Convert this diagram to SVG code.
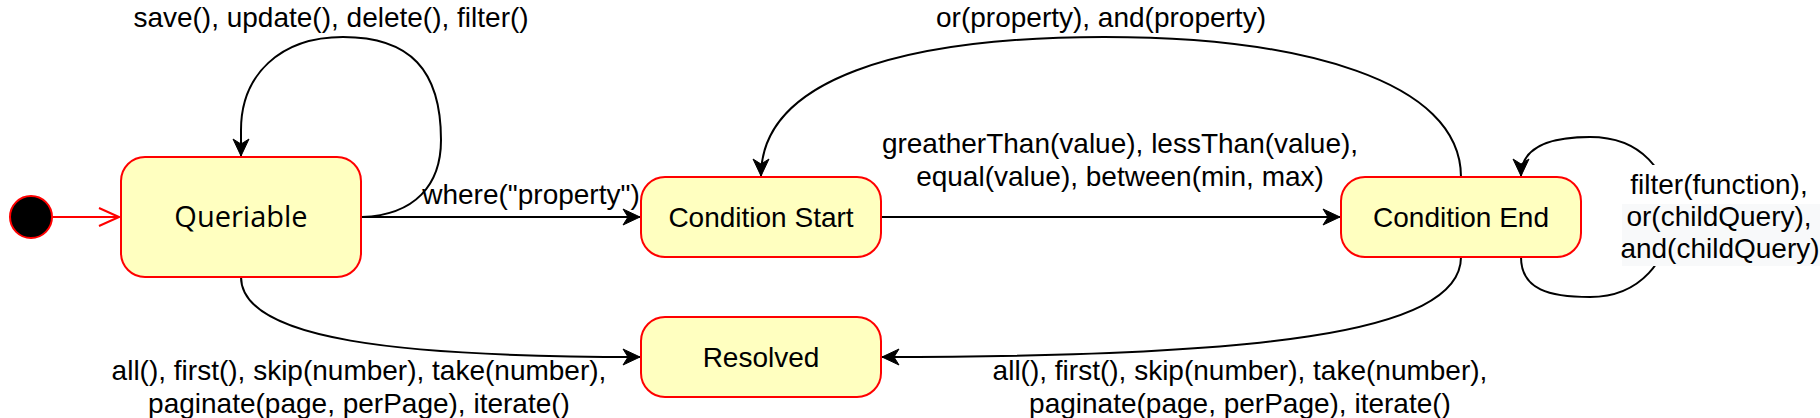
<svg xmlns="http://www.w3.org/2000/svg" width="1820" height="418" viewBox="0 0 1820 418">
<style>
.state{fill:#ffffc0;stroke:#ff0000;stroke-width:2}
.lbl{font-family:"Liberation Sans",Arial,sans-serif;font-size:28px;fill:#000;text-anchor:middle}
.qlbl{font-family:"Open Sans","Noto Sans",sans-serif;font-size:29px;fill:#000;text-anchor:middle}
.edge{fill:none;stroke:#000;stroke-width:2}
</style>
<defs>
<marker id="arrow" markerUnits="userSpaceOnUse" viewBox="-18 -10 20 20" refX="0" refY="0" markerWidth="20" markerHeight="20" orient="auto">
<path d="M0,0 L-17,-8 L-12,0 L-17,8 Z" fill="#000" stroke="#000" stroke-width="1"/>
</marker>
<marker id="open" markerUnits="userSpaceOnUse" viewBox="-22 -11 24 22" refX="0" refY="0" markerWidth="24" markerHeight="22" orient="auto">
<path d="M-20,-9 L0,0 L-20,9" fill="none" stroke="#ff0000" stroke-width="2"/>
</marker>
</defs>
<g id="connectors">
<path class="edge" d="M53,217 L119,217" style="stroke:#ff0000" marker-end="url(#open)"/>
<path class="edge" d="M362,217 C415,215 441,185 441,140 C441,70 410,37 343,37 C280,37 241,75 241,130 L241,156" marker-end="url(#arrow)"/>
<path class="edge" d="M362,217 L640,217" marker-end="url(#arrow)"/>
<path class="edge" d="M881,217 L1340,217" marker-end="url(#arrow)"/>
<path class="edge" d="M1461,177 C1461,80 1300,37 1104,37 C900,37 761,80 761,176" marker-end="url(#arrow)"/>
<path class="edge" d="M1521,257 C1521,290 1550,297 1590,297 C1640,297 1670,260 1670,217 C1670,170 1640,137 1590,137 C1545,137 1521,150 1521,176" marker-end="url(#arrow)"/>
<path class="edge" d="M241,277 C241,340 400,357 640,357" marker-end="url(#arrow)"/>
<path class="edge" d="M1461,257 C1461,335 1250,357 882,357" marker-end="url(#arrow)"/>
<rect x="1618" y="165" width="202" height="101" fill="#ffffff"/>
<rect x="1622" y="204" width="198" height="62" fill="#f8f9fa"/>
<text class="lbl" x="331" y="27">save(), update(), delete(), filter()</text>
<text class="lbl" x="531" y="204">where("property")</text>
<text class="lbl" x="1101" y="27">or(property), and(property)</text>
<text class="lbl" x="1120" y="153">greatherThan(value), lessThan(value),</text>
<text class="lbl" x="1120" y="186">equal(value), between(min, max)</text>
<text class="lbl" x="1719" y="194">filter(function),</text>
<text class="lbl" x="1719" y="226">or(childQuery),</text>
<text class="lbl" x="1720" y="258">and(childQuery)</text>
<text class="lbl" x="359" y="380">all(), first(), skip(number), take(number),</text>
<text class="lbl" x="359" y="413">paginate(page, perPage), iterate()</text>
<text class="lbl" x="1240" y="380">all(), first(), skip(number), take(number),</text>
<text class="lbl" x="1240" y="413">paginate(page, perPage), iterate()</text>
</g>
<g id="initial">
<circle cx="31" cy="217" r="21" fill="#000" stroke="#ff0000" stroke-width="2"/>
</g>
<g id="queriable">
<rect class="state" x="121" y="157" width="240" height="120" rx="24" ry="24"/>
<text class="qlbl" x="241" y="227">Queriable</text>
</g>
<g id="condition-start">
<rect class="state" x="641" y="177" width="240" height="80" rx="24" ry="24"/>
<text class="lbl" x="761" y="227">Condition Start</text>
</g>
<g id="condition-end">
<rect class="state" x="1341" y="177" width="240" height="80" rx="24" ry="24"/>
<text class="lbl" x="1461" y="227">Condition End</text>
</g>
<g id="resolved">
<rect class="state" x="641" y="317" width="240" height="80" rx="24" ry="24"/>
<text class="lbl" x="761" y="367">Resolved</text>
</g>
</svg>
